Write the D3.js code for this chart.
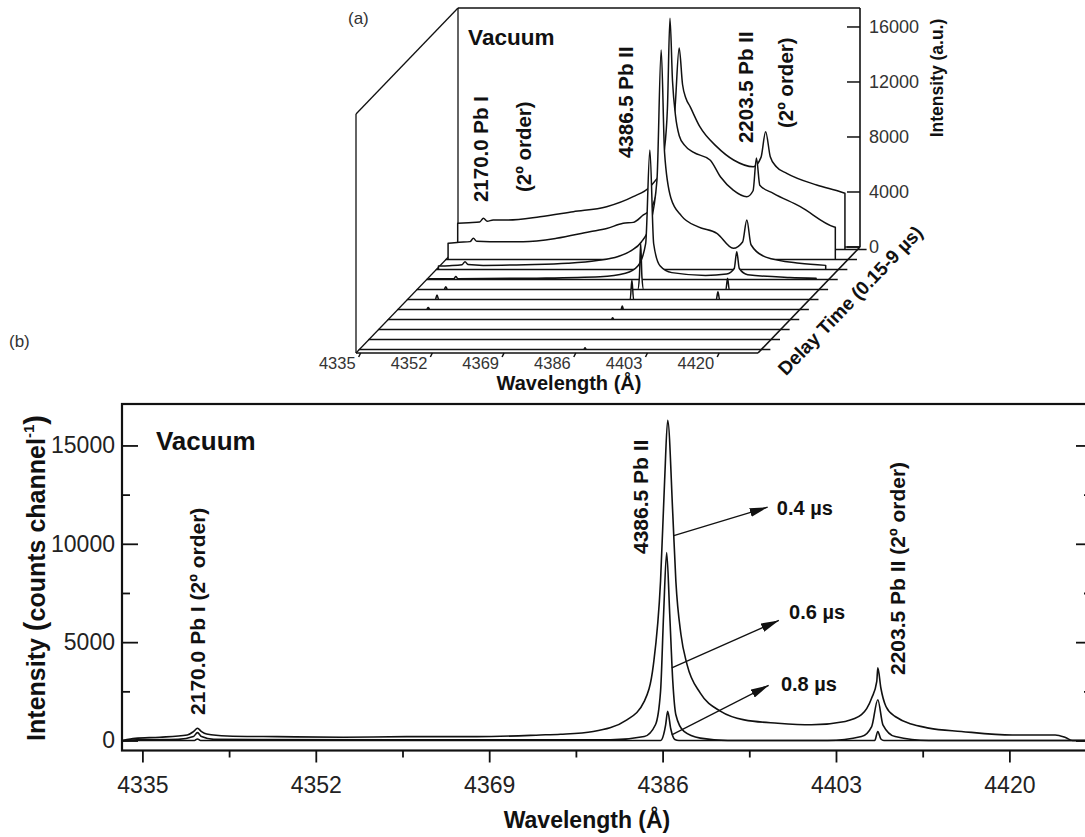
<!DOCTYPE html>
<html><head><meta charset="utf-8">
<script src="https://cdn.jsdelivr.net/npm/d3@7"></script>
<style>
body{margin:0;background:#fff;}
svg{display:block;font-family:"Liberation Sans",Arial,Helvetica,sans-serif;}
</style></head><body>
<svg id="chart" width="1085" height="837"></svg>
<script>
// ---------------- DATA ----------------
// Panel (a): waterfall slices, back (earliest) to front (latest); [wavelength Å, intensity a.u.]
const aSlice0 = [[4334.4,1900],[4337,1950],[4339.6,2000],[4340.5,2270],[4341.4,2050],[4342.8,2145],[4346,2145],[4353.9,2385],[4361.8,2750],[4369.7,3110],[4376,3840],[4380,4570],[4382.5,5600],[4384.5,7400],[4385.9,10200],[4386.9,14650],[4387.7,12000],[4388.5,11000],[4389.5,10385],[4391.8,8930],[4395.8,7480],[4399.8,6510],[4404.5,6020],[4406.3,6700],[4407.4,8570],[4408.5,6750],[4410,6000],[4412.4,5540],[4419.5,4690],[4425.1,4200],[4426.2,4090]];
const aSlice1 = [[4334.4,1180],[4337,1250],[4339.6,1300],[4340.4,1540],[4341.2,1320],[4344.3,1295],[4352.2,1295],[4360.1,1540],[4368,2020],[4372,2250],[4375.9,2630],[4378.3,2700],[4380.7,3240],[4382.3,3600],[4384,5000],[4385.5,7500],[4386.4,11000],[4387,17540],[4387.6,13000],[4388.3,10500],[4389.2,9000],[4390.5,8300],[4392.5,7800],[4396.5,7240],[4399,6000],[4402,5050],[4405.2,4570],[4406.7,5000],[4407.5,7380],[4408.3,5400],[4411.5,4815],[4417.9,3840],[4425.8,2385],[4426.2,2350]];
const aSlice2 = [[4334.4,250],[4337,280],[4340,350],[4340.7,570],[4341.4,360],[4345,300],[4355,350],[4365,450],[4372,650],[4377,950],[4380,1350],[4382.5,2000],[4384.5,3200],[4386.2,6500],[4387.2,15960],[4388,8500],[4389.5,5200],[4392,3900],[4396,3100],[4400.4,2630],[4404.3,1540],[4406.5,2000],[4407.5,3600],[4408.5,1800],[4412,900],[4420,450],[4426.2,300]];
const aSlice3 = [[4334.4,50],[4340.3,60],[4340.8,220],[4341.3,60],[4360,100],[4375,200],[4381,450],[4384,1000],[4385.8,2600],[4386.8,9420],[4387.7,2600],[4389.2,1000],[4392,500],[4400,300],[4405,400],[4406.8,800],[4407.4,2020],[4408,800],[4410,350],[4420,150],[4426.2,100]];
const aSlice4 = [[4334.4,0],[4340.3,0],[4340.7,200],[4341.1,0],[4386.2,0],[4386.6,900],[4386.9,3360],[4387.2,900],[4387.6,0],[4407.1,0],[4407.5,815],[4407.9,0],[4426.2,0]];
const aSlice5 = [[4334.4,0],[4340.5,0],[4340.9,330],[4341.3,0],[4386.7,0],[4387.1,1420],[4387.5,0],[4407.1,0],[4407.5,570],[4407.9,0],[4426.2,0]];
const aSlice6 = [[4334.4,0],[4340.7,0],[4341.1,150],[4341.5,0],[4386.8,0],[4387.1,250],[4387.4,0],[4426.2,0]];
const aSlice7 = [[4334.4,0],[4386.8,0],[4387.1,120],[4387.4,0],[4426.2,0]];
const aSlice8 = [[4334.4,0],[4426.2,0]];
const aSlice9 = [[4334.4,0],[4426.2,0]];
const aSlice10 = [[4334.4,0],[4387.1,0],[4387.4,130],[4387.7,0],[4426.2,0]];
const aSlices = [aSlice0,aSlice1,aSlice2,aSlice3,aSlice4,aSlice5,aSlice6,aSlice7,aSlice8,aSlice9,aSlice10];
const aWavelengthTicks = [4335,4352,4369,4386,4403,4420];
const aIntensityTicks = [0,4000,8000,12000,16000];

// Panel (b): spectra at three delays; [wavelength Å, counts/channel]
const b04 = [[4333.1,0],[4334.3,110],[4336.7,165],[4339.4,280],[4340.0,450],[4340.4,620],[4340.8,450],[4341.3,330],[4343.3,230],[4348.2,195],[4354.7,165],[4360.9,195],[4367.8,195],[4374.0,280],[4376.0,320],[4379.2,460],[4382.5,1050],[4384.2,1990],[4385.1,3860],[4385.8,8110],[4386.2,13220],[4386.5,16280],[4387.0,11520],[4387.3,8110],[4387.8,5390],[4388.4,3860],[4389.7,2410],[4391.7,1480],[4394.0,1050],[4397.3,880],[4400.6,800],[4403.9,970],[4405.5,1310],[4406.5,2160],[4407.0,3010],[4407.1,3690],[4407.4,2670],[4407.9,1730],[4408.8,1220],[4412.1,630],[4415.3,460],[4420.3,280],[4424.5,280],[4425.5,150],[4426.2,0],[4428.1,0]];
const b06 = [[4333.1,0],[4334.5,30],[4338.5,60],[4340.0,200],[4340.4,400],[4340.8,200],[4342,60],[4360,30],[4380.9,30],[4384.2,200],[4385.3,800],[4385.8,2500],[4386.1,6420],[4386.4,9560],[4386.7,6420],[4387.0,3010],[4387.3,1310],[4388.1,460],[4389.7,120],[4392.4,0],[4402.2,0],[4405.5,200],[4406.5,710],[4407.1,2070],[4407.6,800],[4408.8,200],[4412.1,0],[4428.1,0]];
const b08 = [[4333.1,0],[4340.1,0],[4340.4,80],[4340.7,0],[4385.8,0],[4386.1,300],[4386.3,800],[4386.5,1480],[4386.8,600],[4387.2,50],[4387.6,0],[4406.8,0],[4407.1,460],[4407.4,80],[4407.7,0],[4428.1,0]];
const bDelays = ["0.4 µs","0.6 µs","0.8 µs"];
const bWavelengthTicks = [4335,4352,4369,4386,4403,4420];
const bWavelengthMinor = [4343.5,4360.5,4377.5,4394.5,4411.5,4428];
const bIntensityTicks = [0,5000,10000,15000];
const bIntensityMinor = [2500,7500,12500];

// ---------------- DRAW ----------------
const svg = d3.select("#chart");
const FONT = '"Liberation Sans",Arial,Helvetica,sans-serif';

// ===== Panel (a): oblique 3D waterfall =====
const lamMinA = 4333.9, lamMaxA = 4429.2, vMaxA = 17380;
const xA = d3.scaleLinear().domain([lamMinA, lamMaxA]).range([458, 860]);
const zA = d3.scaleLinear().domain([0, vMaxA]).range([247, 8]);
const DX = -102, DY = 106; // depth vector back->front
const tSlice = d3.scaleLinear().domain([0, aSlices.length - 1]).range([2.5/106, 102.5/106]);
const P = (l, v, t) => [xA(l) + DX*t, zA(v) + DY*t];
const gA = svg.append("g");
const seg = (a, b, w) => gA.append("line").attr("x1",a[0]).attr("y1",a[1]).attr("x2",b[0]).attr("y2",b[1])
  .attr("stroke","#111").attr("stroke-width",w||1.3);
const smooth = d3.line().curve(d3.curveMonotoneX);

// walls & floor
seg(P(lamMinA,vMaxA,0), P(lamMaxA,vMaxA,0));
seg(P(lamMinA,vMaxA,0), P(lamMinA,0,0));
seg(P(lamMinA,vMaxA,0), P(lamMinA,vMaxA,1));
seg(P(lamMinA,vMaxA,1), P(lamMinA,0,1));
seg(P(lamMinA,0,0), P(lamMaxA,0,0));
seg(P(lamMinA,0,0), P(lamMinA,0,1));
seg(P(lamMinA,0,1), P(lamMaxA,0,1), 1.6);

// slices back to front, white-filled to hide those behind
aSlices.forEach((s, k) => {
  const t = tSlice(k);
  const trace = s.map(d => P(d[0], d[1], t));
  const a0 = P(lamMinA,0,t), a1 = P(s[0][0],0,t);
  const b0 = P(s[s.length-1][0],0,t), b1 = P(lamMaxA,0,t);
  const d = `M${a0}L${a1}L` + smooth(trace).slice(1) + `L${b0}L${b1}Z`;
  gA.append("path").attr("d", d)
    .attr("fill","#fff").attr("stroke","#111").attr("stroke-width",1.5).attr("stroke-linejoin","round");
});

// right depth axis (delay time) and intensity axis
seg(P(lamMaxA,0,0), P(lamMaxA,0,1), 1.6);
aSlices.forEach((s, k) => {
  const p = P(lamMaxA,0,tSlice(k));
  seg(p, [p[0]+9, p[1]], 1.5);
});
seg(P(lamMaxA,vMaxA,0), P(lamMaxA,0,0), 1.6);
aIntensityTicks.forEach(v => {
  const p = P(lamMaxA, v, 0);
  seg([p[0]-13, p[1]], p, 1.5);
  gA.append("text").attr("x", p[0]+9).attr("y", p[1]).attr("dy","0.35em")
    .attr("font-size",18).attr("fill","#333").text(v);
});
// wavelength axis along the front edge
aWavelengthTicks.forEach(l => {
  const p = P(l, 0, 1);
  seg(p, [p[0]-2, p[1]+4], 1.5);
  gA.append("text").attr("x", p[0]-5).attr("y", p[1]+16).attr("text-anchor","end")
    .attr("font-size",16.5).attr("fill","#333").text(l);
});
gA.append("text").attr("x", 569).attr("y", 390).attr("text-anchor","middle")
  .attr("font-size",20).attr("font-weight","bold").attr("fill","#111").text("Wavelength (Å)");
gA.append("text").attr("transform","translate(943,78) rotate(-90)").attr("text-anchor","middle")
  .attr("font-size",17.5).attr("font-weight","bold").attr("fill","#111").text("Intensity (a.u.)");
gA.append("text").attr("transform","translate(855,305) rotate(-46)").attr("text-anchor","middle")
  .attr("font-size",19).attr("font-weight","bold").attr("fill","#111").text("Delay Time (0.15-9 µs)");

const labA = (l, v, txt, rot, size) => {
  const p = P(l, v, 0);
  gA.append("text").attr("transform", `translate(${p[0]},${p[1]})` + (rot ? " rotate(-90)" : ""))
    .attr("font-size", size).attr("font-weight","bold").attr("fill","#111").text(txt);
};
labA(4336.3, 14690, "Vacuum", false, 22.5);
labA(4341.0, 3270, "2170.0 Pb I", true, 20.5);
labA(4351.2, 4000, "(2º order)", true, 20.5);
labA(4375.4, 6470, "4386.5 Pb II", true, 20.5);
labA(4403.8, 7560, "2203.5 Pb II", true, 20.5);
labA(4413.3, 8650, "(2º order)", true, 20.5);
svg.append("text").attr("x",348).attr("y",24).attr("font-size",17).attr("fill","#333").text("(a)");

// ===== Panel (b) =====
const xB = d3.scaleLinear().domain([4333, 4428.1]).range([122, 1092]);
const yB = d3.scaleLinear().domain([-508, 17107]).range([750.5, 404]);
const gB = svg.append("g");
svg.append("text").attr("x",9).attr("y",347).attr("font-size",17).attr("fill","#333").text("(b)");

const styleAxis = (g, size) => {
  g.select(".domain").remove();
  g.selectAll("line").attr("stroke","#111").attr("stroke-width",1.8);
  g.selectAll("text").attr("font-family",FONT).attr("font-size",size).attr("fill","#222");
};
gB.append("g").attr("transform","translate(0,750.5)")
  .call(d3.axisBottom(xB).tickValues(bWavelengthTicks).tickSize(12).tickPadding(14).tickFormat(d3.format("d")))
  .call(g => styleAxis(g, 23));
gB.append("g").attr("transform","translate(0,750.5)")
  .call(d3.axisBottom(xB).tickValues(bWavelengthMinor).tickSize(7).tickFormat(""))
  .call(g => styleAxis(g, 23));
gB.append("g").attr("transform","translate(122,0)")
  .call(d3.axisLeft(yB).tickValues(bIntensityTicks).tickSize(-16).tickPadding(7).tickFormat(d3.format("d")))
  .call(g => styleAxis(g, 23));
gB.append("g").attr("transform","translate(122,0)")
  .call(d3.axisLeft(yB).tickValues(bIntensityMinor).tickSize(-8).tickFormat(""))
  .call(g => styleAxis(g, 23));
gB.append("g").attr("transform","translate(1092,0)")
  .call(d3.axisRight(yB).tickValues(bIntensityTicks).tickSize(-16).tickFormat(""))
  .call(g => styleAxis(g, 23));
gB.append("g").attr("transform","translate(1092,0)")
  .call(d3.axisRight(yB).tickValues(bIntensityMinor).tickSize(-8).tickFormat(""))
  .call(g => styleAxis(g, 23));
gB.append("rect").attr("x",122).attr("y",404).attr("width",1092-122).attr("height",750.5-404)
  .attr("fill","none").attr("stroke","#111").attr("stroke-width",2.2);

const lineB = d3.line().curve(d3.curveMonotoneX).x(d => xB(d[0])).y(d => yB(d[1]));
[b04, b06, b08].forEach(s => {
  gB.append("path").attr("d", lineB(s)).attr("fill","none").attr("stroke","#111")
    .attr("stroke-width",1.6).attr("stroke-linejoin","round");
});

// arrows
svg.append("defs").append("marker").attr("id","arr").attr("viewBox","0 0 18 9")
  .attr("markerWidth",18).attr("markerHeight",9).attr("markerUnits","userSpaceOnUse")
  .attr("refX",18).attr("refY",4.5).attr("orient","auto")
  .append("path").attr("d","M0,0 L18,4.5 L0,9 Z").attr("fill","#111");
const arrowsB = [
  {from:[4387.1,10410], to:[4396.3,11860], lab:[4397.2,11465]},
  {from:[4386.9,3690], to:[4397.4,6106], lab:[4398.4,6177]},
  {from:[4386.9,285], to:[4396.4,2806], lab:[4397.6,2517]}
];
arrowsB.forEach((a, i) => {
  gB.append("line").attr("x1",xB(a.from[0])).attr("y1",yB(a.from[1]))
    .attr("x2",xB(a.to[0])).attr("y2",yB(a.to[1]))
    .attr("stroke","#111").attr("stroke-width",1.3).attr("marker-end","url(#arr)");
  gB.append("text").attr("x",xB(a.lab[0])).attr("y",yB(a.lab[1]))
    .attr("font-size",20).attr("font-weight","bold").attr("fill","#111").text(bDelays[i]);
});

const labB = (l, v, txt, rot, size) => {
  gB.append("text").attr("transform", `translate(${xB(l)},${yB(v)})` + (rot ? " rotate(-90)" : ""))
    .attr("font-size", size).attr("font-weight","bold").attr("fill","#111").text(txt);
};
labB(4336.33, 14770, "Vacuum", false, 26);
labB(4341.14, 1300, "2170.0 Pb I (2º order)", true, 21);
labB(4384.56, 9480, "4386.5 Pb II", true, 21);
labB(4409.76, 3330, "2203.5 Pb II (2º order)", true, 21);

// axis titles
gB.append("text").attr("x",587).attr("y",828).attr("text-anchor","middle")
  .attr("font-size",23).attr("font-weight","bold").attr("fill","#111").text("Wavelength (Å)");
const yt = gB.append("text").attr("transform","translate(45,578) rotate(-90)").attr("text-anchor","middle")
  .attr("font-size",25).attr("font-weight","bold").attr("fill","#111");
yt.append("tspan").text("Intensity ");
yt.append("tspan").attr("font-size",29).text("(");
yt.append("tspan").text("counts channel");
yt.append("tspan").attr("font-size",15).attr("dy",-11).text("-1");
yt.append("tspan").attr("font-size",29).attr("dy",11).text(")");
</script>
</body></html>
